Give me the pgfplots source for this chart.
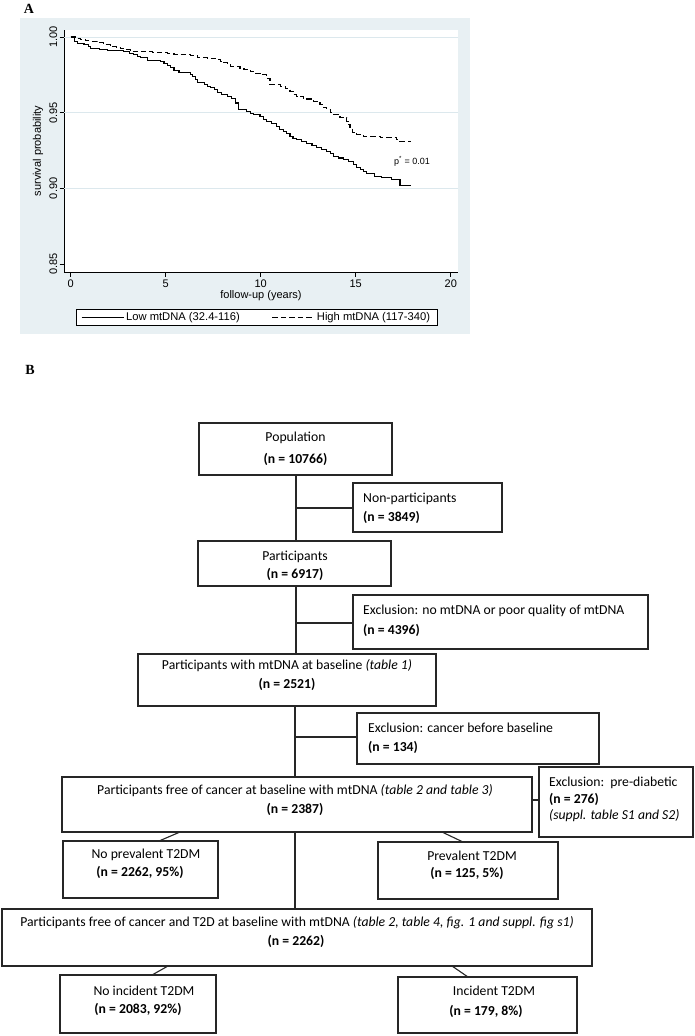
\documentclass[border=0pt]{standalone}
\usepackage{pgfplots}
\pgfplotsset{compat=1.18}
\usepackage{fontspec}
\setmainfont{Carlito}
\newfontfamily\arialfont{Liberation Sans}
\newfontfamily\timesfont{Liberation Serif}
\definecolor{stbg}{RGB}{232,240,243}
\definecolor{stgrid}{RGB}{220,232,237}
\begin{document}
\begin{tikzpicture}
\path[use as bounding box] (0,0) rectangle (695pt,-1036pt);
% ---------------- Panel A ----------------
\fill[stbg] (20pt,-18pt) rectangle (470pt,-334pt);
\node[font=\timesfont\bfseries\fontsize{14}{16}\selectfont] at (29pt,-9pt) {A};
\begin{axis}[
  at={(64pt,-272pt)}, anchor=south west,
  scale only axis, width=394pt, height=242pt,
  xmin=-0.35, xmax=20.38, ymin=0.8447, ymax=1.0046,
  axis x line*=bottom, axis y line*=left,
  axis line style={-, line width=0.9pt, black},
  axis background/.style={fill=white},
  xtick={0,5,10,15,20}, ytick={0.85,0.9,0.95,1},
  minor tick num=0,
  tick align=outside, major tick length=4.5pt,
  tick style={black, line width=0.8pt},
  /pgf/number format/assume math mode=true,
  tick label style={font=\arialfont\fontsize{11}{13}\selectfont},
  y tick label style={rotate=90, anchor=south, inner sep=2pt,
    /pgf/number format/.cd, fixed, fixed zerofill, precision=2, /tikz/.cd},
  extra y ticks={0.9,0.95,1}, extra y tick labels={},
  extra y tick style={grid=major, major tick length=0pt},
  major grid style={stgrid, line width=0.8pt},
  xlabel={follow-up (years)},
  ylabel={survival probability},
  label style={font=\arialfont\fontsize{11}{13}\selectfont},
  xlabel style={at={(axis description cs:0.5,-0.099)}, anchor=center},
  ylabel style={at={(axis description cs:-0.066,0.5)}, anchor=center},
  legend style={at={(0.4886,-0.153)}, anchor=north, draw=black, line width=0.8pt,
    fill=white, font=\arialfont\fontsize{11.2}{13}\selectfont,
    inner xsep=5pt, inner ysep=1pt,
    /tikz/every even column/.append style={column sep=30pt}},
  legend columns=2,
  legend image code/.code={\draw[#1] (0pt,0pt) -- (42pt,0pt);},
]
\addplot[const plot, black, line width=1.1pt] coordinates {
(0,1.000) (0.2,0.997) (0.35,0.9956) (0.7,0.995) (0.96,0.9939) (1.05,0.9921)
(1.5,0.9915) (1.93,0.9910) (2.8,0.9901) (3.1,0.989) (3.33,0.9884) (3.5,0.987)
(3.68,0.9862) (4.03,0.9847) (4.74,0.9840) (4.91,0.9825) (5.1,0.981) (5.26,0.9801)
(5.44,0.9781) (5.7,0.9768) (6.14,0.9763) (6.3,0.975) (6.4,0.9741) (6.55,0.972)
(6.66,0.9702) (7.02,0.9687) (7.2,0.9675) (7.37,0.9664) (7.55,0.965) (7.72,0.9632)
(7.95,0.962) (8.24,0.9605) (8.45,0.9595) (8.65,0.9564) (8.82,0.952) (9.26,0.9509)
(9.45,0.9497) (9.61,0.9487) (9.96,0.9472) (10.15,0.9455) (10.3,0.9443) (10.55,0.943)
(10.84,0.941) (11.0,0.939) (11.19,0.9377) (11.35,0.936) (11.54,0.9344) (11.7,0.9332)
(11.89,0.9322) (12.15,0.931) (12.42,0.9296) (12.7,0.928) (12.95,0.9268) (13.2,0.9257)
(13.47,0.9245) (13.65,0.923) (13.82,0.9213) (14.1,0.9200) (14.35,0.9191) (14.6,0.9175)
(14.87,0.9158) (15.05,0.914) (15.23,0.9125) (15.4,0.911) (15.58,0.9095) (16.0,0.908)
(16.36,0.907) (16.9,0.906) (17.33,0.902) (17.9,0.902)
};
\addlegendentry{Low mtDNA (32.4-116)}
\addplot[const plot, black, line width=1.1pt, dash pattern=on 5.5pt off 3pt] coordinates {
(0,1.0) (0.25,0.999) (0.53,0.9982) (0.8,0.9975) (1.05,0.9971) (1.4,0.9961)
(1.75,0.995) (2.1,0.9939) (2.4,0.993) (2.63,0.9923) (2.9,0.9915) (3.16,0.9906)
(3.5,0.9903) (3.86,0.9901) (4.3,0.9898) (4.74,0.9895) (5.1,0.989) (5.44,0.9884)
(6.32,0.988) (6.66,0.9866) (7.2,0.986) (7.72,0.9851) (7.9,0.984) (8.07,0.9829)
(8.25,0.982) (8.42,0.9807) (8.91,0.9794) (9.12,0.9785) (9.44,0.9772) (9.7,0.976)
(9.96,0.975) (10.31,0.9728) (10.49,0.9684) (11.02,0.9673) (11.3,0.966) (11.54,0.964)
(11.7,0.962) (11.89,0.9607) (12.24,0.959) (12.77,0.9574) (13.12,0.9553) (13.3,0.9535)
(13.47,0.952) (13.65,0.950) (13.82,0.9487) (14.17,0.9465) (14.53,0.9443) (14.6,0.942)
(14.7,0.9399) (14.85,0.937) (15.05,0.9355) (15.4,0.934) (16.28,0.9333) (17.15,0.932)
(17.33,0.931) (17.9,0.931)
};
\addlegendentry{High mtDNA (117-340)}
\node[font=\arialfont\fontsize{9}{10}\selectfont] at (axis cs:17.96,0.9178) {p\textsuperscript{*} = 0.01};
\end{axis}
% ---------------- Panel B ----------------
\node[font=\timesfont\bfseries\fontsize{14}{16}\selectfont] at (30pt,-370pt) {B};
\begin{scope}[x=1pt,y=-1pt,
  box/.style={draw=black!85, line width=1.1pt, fill=white},
  ln/.style={draw=black!85, line width=1.1pt},
  t/.style={font=\fontsize{13.7}{16}\selectfont, inner sep=0pt}]
\draw[ln] (296,475) -- (296,541);
\draw[ln] (296,508) -- (353,508);
\draw[ln] (296,586) -- (296,654);
\draw[ln] (296,623) -- (353,623);
\draw[ln] (295,706) -- (295,777);
\draw[ln] (295,737) -- (357,737);
\draw[ln] (532,800) -- (539,800);
\draw[ln] (295,832) -- (295,909);
\draw[ln] (180,832) -- (159,841);
\draw[ln] (442,832) -- (463,842);
\draw[ln] (168,966) -- (152,975);
\draw[ln] (452,966) -- (468,977);
\draw[box] (199,423) rectangle (392,475);
\draw[box] (353,483) rectangle (502,532);
\draw[box] (198,541) rectangle (391,586);
\draw[box] (353,595) rectangle (648,649);
\draw[box] (138,654) rectangle (436,706);
\draw[box] (357,713) rectangle (599,764);
\draw[box] (62,777) rectangle (532,832);
\draw[box] (539,767) rectangle (693,837);
\draw[box] (63,841) rectangle (218,898);
\draw[box] (378,842) rectangle (558,899);
\draw[box] (2,909) rectangle (592,966);
\draw[box] (60,975) rectangle (216,1033);
\draw[box] (398,977) rectangle (577,1033);
\node[t,anchor=base] at (295.5,441.5) {Population};
\node[t,anchor=base] at (295.5,463.5) {\textbf{(n = 10766)}};
\node[t,anchor=base west] at (363,502.5) {Non-participants};
\node[t,anchor=base west] at (363,521.5) {\textbf{(n = 3849)}};
\node[t,anchor=base] at (295,560.5) {Participants};
\node[t,anchor=base] at (295,578.5) {\textbf{(n = 6917)}};
\node[t,anchor=base west] at (363,614.5) {Exclusion: no mtDNA or poor quality of mtDNA};
\node[t,anchor=base west] at (363,634.5) {\textbf{(n = 4396)}};
\node[t,anchor=base] at (287,669.5) {Participants with mtDNA at baseline \textit{(table 1)}};
\node[t,anchor=base] at (287,688) {\textbf{(n = 2521)}};
\node[t,anchor=base west] at (368,732.5) {Exclusion: cancer before baseline};
\node[t,anchor=base west] at (368,751.5) {\textbf{(n = 134)}};
\node[t,anchor=base] at (295,794.5) {Participants free of cancer at baseline with mtDNA \textit{(table 2 and table 3)}};
\node[t,anchor=base] at (295,813) {\textbf{(n = 2387)}};
\node[t,anchor=base west] at (549,786.5) {Exclusion:\ \ pre-diabetic};
\node[t,anchor=base west] at (549,803) {\textbf{(n = 276)}};
\node[t,anchor=base west] at (549,819.5) {\textit{(suppl. table S1 and S2)}};
\node[t,anchor=base] at (146,858.5) {No prevalent T2DM};
\node[t,anchor=base] at (140,876.5) {\textbf{(n = 2262, 95\%)}};
\node[t,anchor=base] at (472,860.5) {Prevalent T2DM};
\node[t,anchor=base] at (467,877.5) {\textbf{(n = 125, 5\%)}};
\node[t,anchor=base] at (297,926.5) {Participants free of cancer and T2D at baseline with mtDNA \textit{(table 2, table 4, fig. 1 and suppl. fig s1)}};
\node[t,anchor=base] at (296,945.5) {\textbf{(n = 2262)}};
\node[t,anchor=base] at (144,995.5) {No incident T2DM};
\node[t,anchor=base] at (138,1013.5) {\textbf{(n = 2083, 92\%)}};
\node[t,anchor=base] at (494,995.5) {Incident T2DM};
\node[t,anchor=base] at (486,1015) {\textbf{(n = 179, 8\%)}};
\end{scope}
\end{tikzpicture}
\end{document}
